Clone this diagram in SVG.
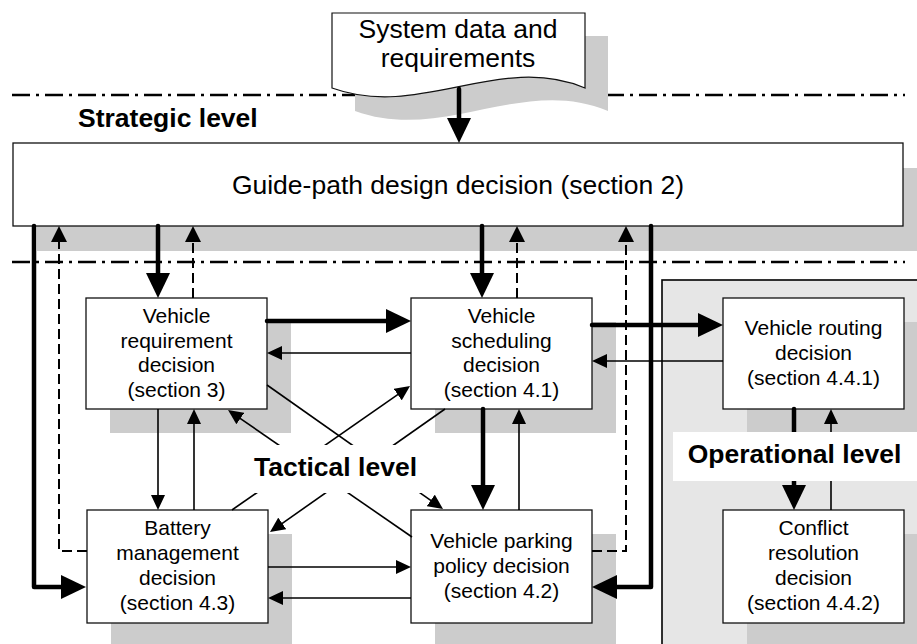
<svg xmlns="http://www.w3.org/2000/svg" width="917" height="644" viewBox="0 0 917 644">
  <style>
    .shadow { fill: #cccccc; stroke: none; }
    .box { fill: #ffffff; stroke: #111111; stroke-width: 1.3; }
    .lbl { font-family: "Liberation Sans", Arial, sans-serif; font-size: 21px; fill: #000; text-anchor: middle; }
    .big { font-family: "Liberation Sans", Arial, sans-serif; font-size: 26.5px; fill: #000; text-anchor: middle; }
    .lvl { font-family: "Liberation Sans", Arial, sans-serif; font-size: 26.5px; font-weight: bold; fill: #000; }
    .sep { fill: none; stroke: #000; stroke-width: 2.5; stroke-dasharray: 18 6 3 6; }
    .thick { fill: none; stroke: #000; stroke-width: 4.5; stroke-linecap: round; stroke-linejoin: round; marker-end: url(#ahThick); }
    .thin { fill: none; stroke: #000; stroke-width: 1.6; marker-end: url(#ahThin); }
    .dash { fill: none; stroke: #000; stroke-width: 2; stroke-dasharray: 10 5; marker-end: url(#ahDash); }
  </style>
  <defs>
    <marker id="ahThick" markerUnits="userSpaceOnUse" markerWidth="25" markerHeight="24" viewBox="0 0 25 24" refX="5" refY="12" orient="auto">
      <path d="M0,0 L25,12 L0,24 z" fill="#000"/>
    </marker>
    <marker id="ahThin" markerUnits="userSpaceOnUse" markerWidth="15" markerHeight="14" viewBox="0 0 15 14" refX="3" refY="7" orient="auto">
      <path d="M0,0 L15,7 L0,14 z" fill="#000"/>
    </marker>
    <marker id="ahDash" markerUnits="userSpaceOnUse" markerWidth="16" markerHeight="16" viewBox="0 0 16 16" refX="3" refY="8" orient="auto">
      <path d="M0,0 L16,8 L0,16 z" fill="#000"/>
    </marker>
  </defs>

  <rect width="917" height="644" fill="#ffffff"/>

  <!-- level separators -->
  <g id="separators">
    <line class="sep" x1="12" y1="95" x2="905" y2="95"/>
    <line class="sep" x1="12" y1="262" x2="905" y2="262"/>
  </g>

  <!-- operational level panel -->
  <rect id="operational-panel" x="662" y="280" width="300" height="420" fill="#e6e6e6" stroke="#000" stroke-width="1.6"/>

  <!-- input document -->
  <g id="system-data">
    <path class="shadow" transform="translate(23,23)" d="M332,13 H585 V88 C500,52 420,120 332,88 Z"/>
    <path fill="#ffffff" stroke="#111" stroke-width="1.2" d="M332,13 H585 V88 C500,52 420,120 332,88 Z"/>
    <text class="big" x="458" y="38">System data and</text>
    <text class="big" x="458" y="67">requirements</text>
  </g>

  <g id="guide-path">
    <rect class="shadow" x="37" y="168" width="900" height="83"/>
    <rect class="box" x="13" y="143" width="890" height="83" stroke-width="1.6"/>
    <text class="big" x="458" y="194">Guide-path design decision (section 2)</text>
  </g>

  <g id="vehicle-requirement">
    <rect class="shadow" x="110" y="322" width="181" height="111"/>
    <rect class="box" x="86" y="298" width="181" height="111"/>
    <text class="lbl" x="176.5" y="323">Vehicle</text>
    <text class="lbl" x="176.5" y="348">requirement</text>
    <text class="lbl" x="176.5" y="372">decision</text>
    <text class="lbl" x="176.5" y="397">(section 3)</text>
  </g>

  <g id="vehicle-scheduling">
    <rect class="shadow" x="435" y="322" width="181" height="111"/>
    <rect class="box" x="411" y="298" width="181" height="111"/>
    <text class="lbl" x="501.5" y="323">Vehicle</text>
    <text class="lbl" x="501.5" y="348">scheduling</text>
    <text class="lbl" x="501.5" y="372">decision</text>
    <text class="lbl" x="501.5" y="397">(section 4.1)</text>
  </g>

  <g id="vehicle-routing">
    <rect class="shadow" x="747" y="322" width="181" height="111"/>
    <rect class="box" x="723" y="298" width="181" height="111"/>
    <text class="lbl" x="813.5" y="335">Vehicle routing</text>
    <text class="lbl" x="813.5" y="360">decision</text>
    <text class="lbl" x="813.5" y="385">(section 4.4.1)</text>
  </g>

  <g id="battery-management">
    <rect class="shadow" x="111" y="534" width="181" height="113"/>
    <rect class="box" x="87" y="510" width="181" height="113"/>
    <text class="lbl" x="177.5" y="535">Battery</text>
    <text class="lbl" x="177.5" y="560">management</text>
    <text class="lbl" x="177.5" y="585">decision</text>
    <text class="lbl" x="177.5" y="610">(section 4.3)</text>
  </g>

  <g id="vehicle-parking">
    <rect class="shadow" x="435" y="534" width="181" height="113"/>
    <rect class="box" x="411" y="510" width="181" height="113"/>
    <text class="lbl" x="501.5" y="548">Vehicle parking</text>
    <text class="lbl" x="501.5" y="573">policy decision</text>
    <text class="lbl" x="501.5" y="598">(section 4.2)</text>
  </g>

  <g id="conflict-resolution">
    <rect class="shadow" x="747" y="534" width="181" height="113"/>
    <rect class="box" x="723" y="510" width="181" height="113"/>
    <text class="lbl" x="813.5" y="535">Conflict</text>
    <text class="lbl" x="813.5" y="560">resolution</text>
    <text class="lbl" x="813.5" y="585">decision</text>
    <text class="lbl" x="813.5" y="610">(section 4.4.2)</text>
  </g>

  <g id="connectors">
    <!-- input to guide-path design -->
    <path class="thick" d="M459,89 V123"/>
    <!-- guide-path design down to tactical decisions -->
    <path class="thick" d="M34,226 V587 H66"/>
    <path class="thick" d="M158,226 V278"/>
    <path class="thick" d="M482,226 V278"/>
    <path class="thick" d="M651,226 V587 H612"/>
    <!-- feedback up to guide-path design -->
    <path class="dash" d="M87,551 H59 V239"/>
    <path class="dash" d="M193,298 V239"/>
    <path class="dash" d="M517,298 V239"/>
    <path class="dash" d="M592,551 H626 V239"/>
    <!-- tactical / operational interactions -->
    <path class="thick" d="M267,321 H391"/>
    <path class="thin" d="M411,353 H279"/>
    <path class="thick" d="M592,325 H703"/>
    <path class="thin" d="M723,361 H604"/>
    <path class="thin" d="M158,409 V498"/>
    <path class="thin" d="M194,510 V421"/>
    <path class="thick" d="M483,409 V490"/>
    <path class="thin" d="M519,510 V421"/>
    <path class="thin" d="M268,567 H399"/>
    <path class="thin" d="M411,598 H280"/>
    <path class="thick" d="M794,409 V490"/>
    <path class="thin" d="M831,510 V421"/>
    <!-- diagonal links -->
    <path class="thin" d="M267,385 L433.2,502.1"/>
    <path class="thin" d="M412,537 L237.9,416.8"/>
    <path class="thin" d="M232,510 L400.2,392.9"/>
    <path class="thin" d="M445,409 L279.8,525.1"/>
  </g>

  <!-- level labels -->
  <g id="labels">
    <text class="lvl" x="78" y="127">Strategic level</text>
    <rect x="245" y="445" width="185" height="48" fill="#ffffff"/>
    <text class="lvl" x="335.5" y="476" text-anchor="middle">Tactical level</text>
    <rect x="673" y="432" width="250" height="49" fill="#ffffff"/>
    <text class="lvl" x="794.5" y="463" text-anchor="middle">Operational level</text>
  </g>
</svg>
